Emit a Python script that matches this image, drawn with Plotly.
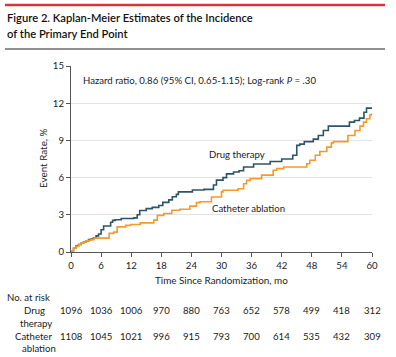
import plotly.graph_objects as go

# ---- data ----
drug_t = [0, 0.5, 1, 1.5, 2, 2.5, 3, 3.5, 4, 4.5, 5, 5.5, 6, 6.5, 7.9, 8.3, 8.8, 10, 12.5, 13.2, 13.7,
          15, 16.2, 17.5, 18.3, 19.5, 20.2, 21, 21.4, 24.2, 26.5, 28.4, 29, 30.3, 31, 32.4, 33.5, 34.4,
          36.4, 39.7, 42, 44.2, 45, 45.6, 46.5, 48.3, 49.3, 50.3, 51.3, 55.5, 56.5, 57.5, 58.4, 58.9, 60]
drug_v = [0.1, 0.3, 0.5, 0.6, 0.7, 0.8, 0.9, 1.0, 1.05, 1.15, 1.3, 1.45, 1.8, 2.1, 2.4, 2.55, 2.6, 2.7,
          2.75, 3.0, 3.35, 3.5, 3.6, 3.75, 4.0, 4.2, 4.45, 4.65, 4.85, 5.0, 5.05, 5.4, 5.8, 6.0, 6.3,
          6.45, 6.55, 6.85, 7.1, 7.3, 7.5, 7.8, 8.6, 8.7, 8.9, 9.1, 9.4, 9.8, 10.15, 10.47, 10.6, 10.8,
          11.27, 11.6, 11.6]

abl_t = [0, 0.5, 1, 1.5, 2, 2.5, 3, 3.5, 4, 4.6, 7.6, 8.5, 9.2, 10.9, 11.9, 13.8, 16.5, 17.2, 18.5,
         20.1, 21.7, 23.7, 25, 25.7, 28, 30, 30.3, 33.3, 34.4, 35, 35.7, 38, 40.3, 41, 42.4, 47, 47.6,
         48.7, 49.6, 51, 51.9, 52.3, 55.2, 56.6, 57.6, 58.3, 58.9, 59.6, 60]
abl_v = [0.1, 0.3, 0.45, 0.6, 0.7, 0.8, 0.9, 0.95, 1.0, 1.12, 1.5, 1.6, 2.03, 2.15, 2.22, 2.35, 2.57,
         2.95, 3.1, 3.37, 3.45, 3.7, 3.98, 4.05, 4.44, 4.85, 4.98, 5.1, 5.5, 5.78, 5.92, 6.2, 6.59,
         6.72, 6.85, 7.12, 7.4, 7.8, 8.1, 8.46, 8.8, 8.9, 9.4, 9.8, 10.15, 10.47, 10.74, 11.06, 11.2]

x_ticks = [0, 6, 12, 18, 24, 30, 36, 42, 48, 54, 60]
y_ticks = [0, 3, 6, 9, 12, 15]
risk_drug = [1096, 1036, 1006, 970, 880, 763, 652, 578, 499, 418, 312]
risk_abl = [1108, 1045, 1021, 996, 915, 793, 700, 614, 535, 432, 309]

DRUG_COLOR = "#2d5566"
ABL_COLOR = "#f39a2e"
FONT = "Lato"
TXT = "#222222"
FS = 9.6

W, H = 396, 357
L, R, T, B = 71, 372, 66, 252


def px(x):
    return (x - L) / (R - L)


def py(y):
    return (B - y) / (B - T)


def f(size=FS, **kw):
    return dict(family=FONT, size=size, color=kw.get("color", TXT), weight=kw.get("weight", 400))


fig = go.Figure()
fig.add_trace(go.Scatter(x=drug_t, y=drug_v, mode="lines", line=dict(color=DRUG_COLOR, width=1.6, shape="hv"),
                         showlegend=False, hoverinfo="skip"))
fig.add_trace(go.Scatter(x=abl_t, y=abl_v, mode="lines", line=dict(color=ABL_COLOR, width=1.6, shape="hv"),
                         showlegend=False, hoverinfo="skip"))

ann = []
# title (two lines)
for txt, yy in [("Figure 2. Kaplan-Meier Estimates of the Incidence", 17), ("of the Primary End Point", 34)]:
    ann.append(dict(text=txt, xref="paper", yref="paper", x=px(5), y=py(yy), xanchor="left", yanchor="middle",
                    showarrow=False, font=f(11.2, color="#111", weight=600)))
# hazard ratio
ann.append(dict(text="Hazard ratio, 0.86 (95% CI, 0.65-1.15); Log-rank <i>P</i> = .30",
                xref="paper", yref="paper", x=px(81), y=py(80), xanchor="left", yanchor="middle",
                showarrow=False, font=f(FS)))
ann.append(dict(text="Drug therapy", xref="paper", yref="paper", x=px(207), y=py(154), xanchor="left",
                yanchor="middle", showarrow=False, font=f(FS)))
ann.append(dict(text="Catheter ablation", xref="paper", yref="paper", x=px(210), y=py(208), xanchor="left",
                yanchor="middle", showarrow=False, font=f(FS)))
# x title
ann.append(dict(text="Time Since Randomization, mo", xref="paper", yref="paper", x=px(221), y=py(280),
                xanchor="center", yanchor="middle", showarrow=False, font=f(9.9)))
# y title
ann.append(dict(text="Event Rate, %", xref="paper", yref="paper", x=px(43), y=py(158), textangle=-90,
                xanchor="center", yanchor="middle", showarrow=False, font=f(9.9)))
# risk table
ann.append(dict(text="No. at risk", xref="paper", yref="paper", x=px(5), y=py(297), xanchor="left",
                yanchor="middle", showarrow=False, font=f(FS)))
for lbl, xx, yy in [("Drug", 22, 310), ("therapy", 18, 323), ("Catheter", 13, 336), ("ablation", 20, 348)]:
    ann.append(dict(text=lbl, xref="paper", yref="paper", x=px(xx), y=py(yy), xanchor="left",
                    yanchor="middle", showarrow=False, font=f(FS)))
for xv, a, b in zip(x_ticks, risk_drug, risk_abl):
    ann.append(dict(text=str(a), xref="x", yref="paper", x=xv, y=py(310), xanchor="center",
                    yanchor="middle", showarrow=False, font=f(FS)))
    ann.append(dict(text=str(b), xref="x", yref="paper", x=xv, y=py(336), xanchor="center",
                    yanchor="middle", showarrow=False, font=f(FS)))

shapes = [
    dict(type="line", xref="paper", yref="paper", x0=px(5), x1=px(385), y0=py(5), y1=py(5),
         line=dict(color="#d9343a", width=2.5)),
    dict(type="line", xref="paper", yref="paper", x0=px(5), x1=px(385), y0=py(49), y1=py(49),
         line=dict(color="#222", width=1)),
]

fig.update_layout(
    width=W, height=H,
    margin=dict(l=L, r=W - R, t=T, b=H - B, pad=0),
    paper_bgcolor="white", plot_bgcolor="white",
    font=f(FS),
    annotations=ann, shapes=shapes,
    xaxis=dict(range=[0, 60], tickvals=x_ticks, ticks="outside", ticklen=4, tickcolor="#555",
               showline=True, linecolor="#555", linewidth=1.2, showgrid=False, zeroline=False,
               tickfont=f(FS), fixedrange=True),
    yaxis=dict(range=[0, 15], tickvals=y_ticks, ticks="outside", ticklen=4, tickcolor="#555",
               showline=True, linecolor="#555", linewidth=1.2, showgrid=True, gridcolor="#e3e3e3",
               gridwidth=1, zeroline=False, tickfont=f(FS), fixedrange=True),
)

fig.write_html("out.html", config={"displayModeBar": False},
               post_script="document.body.style.margin='0';document.body.style.overflow='hidden';")
